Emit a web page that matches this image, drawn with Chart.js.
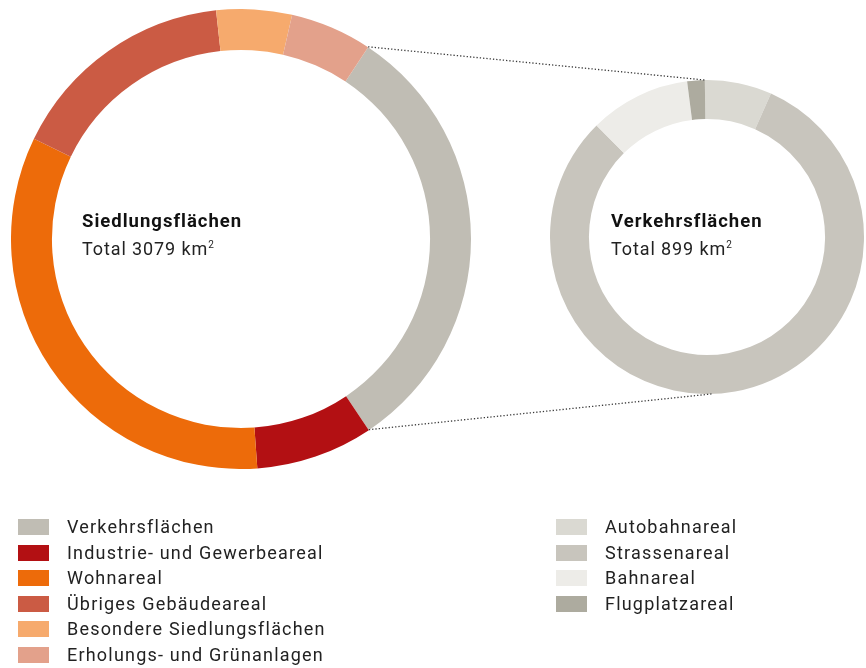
<!DOCTYPE html>
<html>
<head>
<meta charset="utf-8">
<script src="https://cdn.jsdelivr.net/npm/chart.js@4"></script>
<style>
  html, body { margin:0; padding:0; background:#fff; }
  body { width:866px; height:668px; position:relative; overflow:hidden; font-family: Roboto, "Open Sans", sans-serif; color:#1a1a1a; }
  .cv { position:absolute; }
  .center { position:absolute; line-height:23px; }
  .center b { font-size:18.5px; font-weight:700; color:#111; display:block; letter-spacing:1px; }
  .center span { font-size:18px; font-weight:400; color:#222; letter-spacing:0.9px; }
  .center sup { font-size:10px; vertical-align: 7px; letter-spacing:0; }
  .legend { position:absolute; }
  .row { position:relative; height:25.5px; }
  .box { position:absolute; left:0; top:5px; width:31px; height:16px; }
  .lab { position:absolute; left:49px; top:1px; font-size:18px; line-height:24px; color:#222; white-space:nowrap; letter-spacing:1.2px; }
</style>
</head>
<body>
<canvas id="left" class="cv" width="460" height="460" style="left:11px;top:8.5px;width:460px;height:460px"></canvas>
<canvas id="right" class="cv" width="314" height="314" style="left:550px;top:80px;width:314px;height:314px"></canvas>
<canvas id="overlay" class="cv" width="866" height="668" style="left:0;top:0;pointer-events:none"></canvas>

<div class="center" style="left:82px;top:210px"><b id="lt1"></b><span id="lt2"></span></div>
<div class="center" style="left:611px;top:210px"><b id="rt1"></b><span id="rt2"></span></div>

<div id="legL" class="legend" style="left:18px;top:514px"></div>
<div id="legR" class="legend" style="left:556px;top:514px"></div>

<script>
// ---- Data ----
const siedlungCategories = ["Verkehrsflächen","Industrie- und Gewerbeareal","Wohnareal","Übriges Gebäudeareal","Besondere Siedlungsflächen","Erholungs- und Grünanlagen"];
const siedlungShares = [31.3, 8.25, 33.3, 16.1, 5.3, 5.75];   // % of 3079 km²
const siedlungColors = ["#c0bdb4","#b31013","#ed6b0a","#cb5b44","#f6aa6d","#e3a18b"];

const verkehrCategories = ["Autobahnareal","Strassenareal","Bahnareal","Flugplatzareal"];
const verkehrShares = [6.9, 80.9, 10.4, 1.8];                  // % of 899 km²
const verkehrColors = ["#dad9d2","#c8c5bd","#edece8","#adab9f"];

const leftTitle = "Siedlungsflächen", leftTotal = "Total 3079 km";
const rightTitle = "Verkehrsflächen", rightTotal = "Total 899 km";

// ---- Texts ----
document.getElementById('lt1').textContent = leftTitle;
document.getElementById('lt2').innerHTML = leftTotal + '<sup>2</sup>';
document.getElementById('rt1').textContent = rightTitle;
document.getElementById('rt2').innerHTML = rightTotal + '<sup>2</sup>';

function buildLegend(el, cats, cols){
  cats.forEach((c,i)=>{
    const r = document.createElement('div'); r.className='row';
    const b = document.createElement('div'); b.className='box'; b.style.background=cols[i];
    const l = document.createElement('div'); l.className='lab'; l.textContent=c;
    r.appendChild(b); r.appendChild(l); el.appendChild(r);
  });
}
buildLegend(document.getElementById('legL'), siedlungCategories, siedlungColors);
buildLegend(document.getElementById('legR'), verkehrCategories, verkehrColors);

// ---- Charts ----
function doughnut(id, labels, data, colors, rotation, cutout){
  return new Chart(document.getElementById(id), {
    type:'doughnut',
    data:{ labels, datasets:[{ data, backgroundColor:colors, borderWidth:0, hoverOffset:0 }]},
    options:{
      responsive:false, animation:false, rotation, cutout,
      layout:{ padding:0 },
      plugins:{ legend:{display:false}, tooltip:{enabled:false} },
      events:[]
    }
  });
}
const cL = doughnut('left', siedlungCategories, siedlungShares, siedlungColors, 33.55, '82.2%');
const cR = doughnut('right', verkehrCategories, verkehrShares, verkehrColors, -0.8, '75.2%');

// ---- Connector lines (from arc geometry) ----
function pt(chart, offX, offY, angle){
  const a = chart.getDatasetMeta(0).data[0];
  return [offX + a.x + a.outerRadius*Math.cos(angle), offY + a.y + a.outerRadius*Math.sin(angle)];
}
const ctx = document.getElementById('overlay').getContext('2d');
const aL = cL.getDatasetMeta(0).data[0];
const aR = cR.getDatasetMeta(0).data[0];
const p1 = pt(cL, 11, 8.5, aL.startAngle);
const p2 = pt(cL, 11, 8.5, aL.endAngle);
const q1 = pt(cR, 550, 80, aR.startAngle);
const q2 = pt(cR, 550, 80, Math.PI/2 - 0.03);
ctx.strokeStyle = '#3a3a3a';
ctx.lineWidth = 1.3;
ctx.setLineDash([1.3, 2]);
ctx.beginPath(); ctx.moveTo(p1[0],p1[1]); ctx.lineTo(q1[0],q1[1]); ctx.stroke();
ctx.beginPath(); ctx.moveTo(p2[0],p2[1]); ctx.lineTo(q2[0],q2[1]); ctx.stroke();
</script>
</body>
</html>
